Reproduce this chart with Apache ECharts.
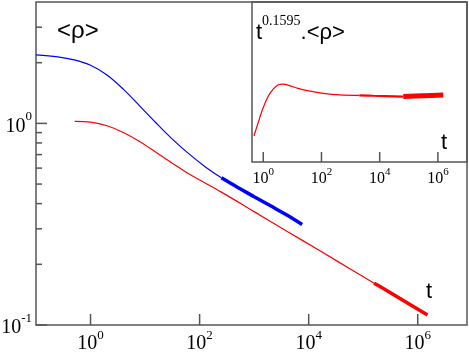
<!DOCTYPE html>
<html>
<head>
<meta charset="utf-8">
<script src="https://cdn.jsdelivr.net/npm/echarts@6/dist/echarts.min.js"></script>
<style>
  html, body { margin: 0; padding: 0; background: #fff; }
  #chart { width: 469px; height: 353px; }
</style>
</head>
<body>
<div id="chart"></div>
<script>
// blue curve, <rho>(t)
const blueT = [0.1, 0.251, 0.501, 1, 2, 3.98, 7.94, 15.8, 31.6, 63.1, 126, 251];
const blueRho = [2.188, 2.138, 2.065, 1.941, 1.738, 1.479, 1.222, 1.007, 0.836, 0.708, 0.610, 0.537];
// blue noisy tail
const blueTailT = [251, 501, 1000, 2000, 3980, 7590];
const blueTailRho = [0.537, 0.481, 0.433, 0.390, 0.351, 0.315];

// red curve, <rho>(t)
const redT = [0.513, 1, 2, 3.98, 7.94, 15.8, 31.6, 63.1, 251, 1000, 3980, 15800, 63100, 158000];
const redRho = [1.023, 1.014, 0.973, 0.902, 0.813, 0.719, 0.635, 0.562, 0.456, 0.365, 0.292, 0.234, 0.187, 0.161];
// red noisy tail
const redTailT = [158000, 251000, 1510000];
const redTailRho = [0.161, 0.150, 0.112];

// inset: t^0.1595 . <rho>
const insetT = [0.479, 0.658, 0.977, 1.45, 2.15, 3.2, 4.75, 7.06, 15.6, 32.5, 115, 432, 2000];
const insetV = [0.897, 0.959, 1.032, 1.088, 1.124, 1.145, 1.150, 1.145, 1.129, 1.118, 1.105, 1.097, 1.095];
const insetMidT = [2000, 6030, 64600];
const insetMidV = [1.095, 1.093, 1.089];
const insetTailT = [64600, 315000, 1530000];
const insetTailV = [1.089, 1.093, 1.097];

// ticks (exponents of 10, and minor rho values)
const xTickExp = [0, 2, 4, 6];
const yMajorExp = [-1, 0];
const yMinorVals = [0.2, 0.3, 0.4, 0.5, 0.6, 0.7, 0.8, 0.9, 2, 3];

const BLUE = "#0000ff";
const RED = "#ff0000";
const FRAME = "#555";

// axis ranges (log10 units for the main plot)
const X_MIN = -1, X_MAX = Math.log10(8e6);
const Y_MIN = -1, Y_MAX = Math.log10(4);
const IX_MIN = Math.log10(0.41), IX_MAX = 7;
const IY_MIN = 0.77, IY_MAX = 1.55;

function logPairs(xs, ys) {
  return xs.map((x, i) => [Math.log10(x), Math.log10(ys[i])]);
}
function logXPairs(xs, ys) {
  return xs.map((x, i) => [Math.log10(x), ys[i]]);
}

const powLabel = (v) => "{b|10}{s|" + v + "}";

// inward tick marks, placed through the axes' own scales
function tickSeries(xAxisIndex, yAxisIndex, points, dx, dy) {
  return {
    type: "custom",
    xAxisIndex,
    yAxisIndex,
    silent: true,
    clip: false,
    z: 4,
    data: points,
    renderItem(params, api) {
      const p = api.coord([api.value(0), api.value(1)]);
      return {
        type: "line",
        shape: { x1: p[0], y1: p[1], x2: p[0] + dx, y2: p[1] + dy },
        style: { stroke: FRAME, lineWidth: 1.5 },
      };
    },
  };
}

const chart = echarts.init(document.getElementById("chart"), null, { renderer: "canvas" });

const lineBase = {
  type: "line",
  showSymbol: false,
  smooth: 0.35,
  silent: true,
};

chart.setOption({
  animation: false,
  backgroundColor: "#fff",
  grid: [
    { left: 36, top: 2, width: 431, height: 323, show: true, borderColor: FRAME, borderWidth: 1.5,
      outerBoundsMode: "none" },
    { left: 252, top: 2, width: 215, height: 160, show: true, borderColor: FRAME, borderWidth: 1.5,
      outerBoundsMode: "none" },
  ],
  xAxis: [
    {
      type: "value", gridIndex: 0, min: X_MIN, max: X_MAX,
      axisLine: { show: false, onZero: false },
      splitLine: { show: false },
      axisTick: { show: false },
      axisLabel: {
        customValues: xTickExp, margin: 4, color: "#000",
        formatter: powLabel,
        rich: {
          b: { fontFamily: "Liberation Serif", fontSize: 20, padding: [5, 0, 0, 0], color: "#000" },
          s: { fontFamily: "Liberation Serif", fontSize: 13, verticalAlign: "top", color: "#000" },
        },
      },
    },
    {
      type: "value", gridIndex: 1, min: IX_MIN, max: IX_MAX,
      axisLine: { show: false, onZero: false },
      splitLine: { show: false },
      axisTick: { show: false },
      axisLabel: {
        customValues: xTickExp, margin: 5, color: "#000",
        formatter: powLabel,
        rich: {
          b: { fontFamily: "Liberation Serif", fontSize: 16, padding: [4, 0, 0, 0], color: "#000" },
          s: { fontFamily: "Liberation Serif", fontSize: 11, verticalAlign: "top", color: "#000" },
        },
      },
    },
  ],
  yAxis: [
    {
      type: "value", gridIndex: 0, min: Y_MIN, max: Y_MAX,
      axisLine: { show: false, onZero: false },
      splitLine: { show: false },
      axisTick: { show: false },
      axisLabel: {
        customValues: yMajorExp, margin: 4, color: "#000",
        formatter: powLabel,
        rich: {
          b: { fontFamily: "Liberation Serif", fontSize: 20, padding: [6, 0, 0, 0], color: "#000" },
          s: { fontFamily: "Liberation Serif", fontSize: 13, verticalAlign: "top", color: "#000" },
        },
      },
    },
    {
      type: "value", gridIndex: 1, min: IY_MIN, max: IY_MAX,
      axisLine: { show: false, onZero: false },
      axisTick: { show: false },
      axisLabel: { show: false },
      splitLine: { show: false },
    },
  ],
  series: [
    { ...lineBase, name: "blue", xAxisIndex: 0, yAxisIndex: 0, data: logPairs(blueT, blueRho),
      lineStyle: { color: BLUE, width: 1.2 }, itemStyle: { color: BLUE } },
    { ...lineBase, name: "blueTail", xAxisIndex: 0, yAxisIndex: 0, data: logPairs(blueTailT, blueTailRho),
      lineStyle: { color: BLUE, width: 3.5 }, itemStyle: { color: BLUE } },
    { ...lineBase, name: "red", xAxisIndex: 0, yAxisIndex: 0, data: logPairs(redT, redRho),
      lineStyle: { color: RED, width: 1.2 }, itemStyle: { color: RED } },
    { ...lineBase, name: "redTail", xAxisIndex: 0, yAxisIndex: 0, data: logPairs(redTailT, redTailRho),
      lineStyle: { color: RED, width: 3.5 }, itemStyle: { color: RED } },
    { ...lineBase, name: "inset", xAxisIndex: 1, yAxisIndex: 1, data: logXPairs(insetT, insetV),
      lineStyle: { color: RED, width: 1.2 }, itemStyle: { color: RED } },
    { ...lineBase, name: "insetMid", xAxisIndex: 1, yAxisIndex: 1, data: logXPairs(insetMidT, insetMidV),
      lineStyle: { color: RED, width: 2.2 }, itemStyle: { color: RED } },
    { ...lineBase, name: "insetTail", xAxisIndex: 1, yAxisIndex: 1, data: logXPairs(insetTailT, insetTailV),
      lineStyle: { color: RED, width: 5 }, itemStyle: { color: RED } },
    // tick marks
    tickSeries(0, 0, xTickExp.map((v) => [v, Y_MIN]), 0, -11),
    tickSeries(0, 0, yMajorExp.map((v) => [X_MIN, v]), 11, 0),
    tickSeries(0, 0, yMinorVals.map((v) => [X_MIN, Math.log10(v)]), 6, 0),
    tickSeries(1, 1, xTickExp.map((v) => [v, IY_MIN]), 0, -10),
  ],
  graphic: [
    {
      type: "text", left: 57, top: 19, z: 10,
      style: { text: "<ρ>", font: "24px 'Liberation Sans'", fill: "#000" },
    },
    {
      type: "text", left: 426, top: 281, z: 10,
      style: { text: "t", font: "22px 'Liberation Sans'", fill: "#000" },
    },
    {
      type: "text", left: 441, top: 132, z: 10,
      style: { text: "t", font: "22px 'Liberation Sans'", fill: "#000" },
    },
    {
      type: "text", left: 256, top: 14, z: 10,
      style: {
        text: "{a|t}{s|0.1595}{a|.<ρ>}",
        rich: {
          a: { fontFamily: "Liberation Sans", fontSize: 22, padding: [8, 0, 0, 0], fill: "#000" },
          s: { fontFamily: "Liberation Serif", fontSize: 14, verticalAlign: "top", fill: "#000" },
        },
      },
    },
  ],
});
</script>
</body>
</html>
